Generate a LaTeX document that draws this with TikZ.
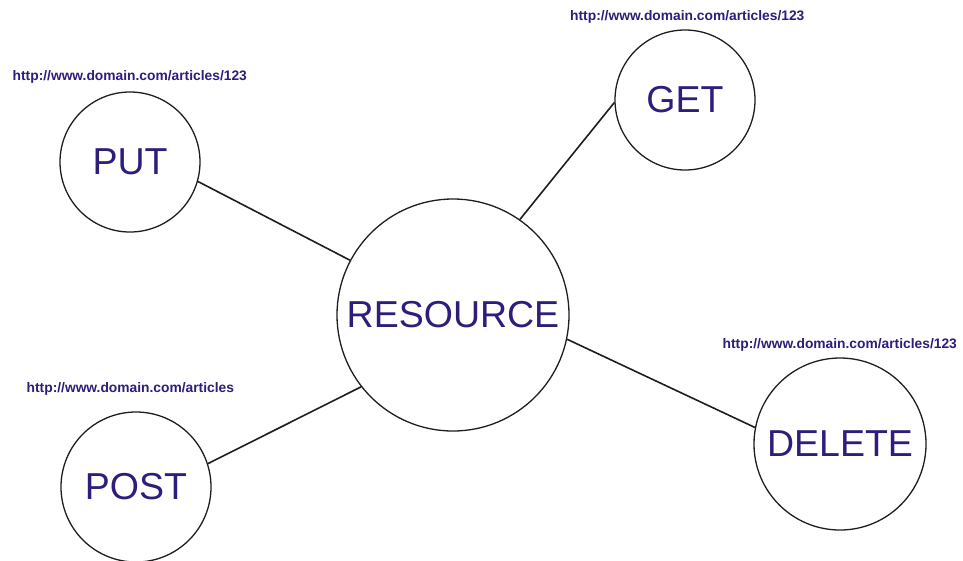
\documentclass[tikz,border=0pt]{standalone}
\usepackage{fontspec}
\setmainfont{Liberation Sans}
\definecolor{labelink}{RGB}{48,28,122}
\definecolor{edgeink}{RGB}{30,30,30}
\begin{document}
\begin{tikzpicture}[x=1pt,y=-1pt,
  verb/.style={circle,draw=edgeink,line width=1.3pt,fill=white,inner sep=0pt,
    text=labelink,font=\fontsize{37.5}{40}\selectfont},
  url/.style={text=labelink,font=\fontsize{13.8}{15}\selectfont\bfseries,inner sep=0pt,anchor=west},
  link/.style={draw=edgeink,line width=1.6pt}]
\useasboundingbox[fill=white] (0,0) rectangle (963,560);

% the resource and the four HTTP verbs around it
\node[verb,minimum size=232pt] (res) at (453,315) {RESOURCE};
\node[verb,minimum size=140pt] (put) at (130,162) {PUT};
\node[verb,minimum size=140pt] (get) at (685,100) {GET};
\node[verb,minimum size=150pt] (post) at (136,487) {POST};
\node[verb,minimum size=172pt] (del) at (840,444) {DELETE};

% the URL each verb acts on
\node[url] (puturl) at (12.5,77) {http://www.domain.com/articles/123};
\node[url] (geturl) at (570,17) {http://www.domain.com/articles/123};
\node[url] (posturl) at (26.5,389) {http://www.domain.com/articles};
\node[url] (delurl) at (722.5,345) {http://www.domain.com/articles/123};

% connectors
\draw[link] (put.-16) -- (res.152);
\draw[link] (get.182) -- (res.55);
\draw[link] (post.18) -- (res.218);
\draw[link] (del.169) -- (res.-12);
\end{tikzpicture}
\end{document}
